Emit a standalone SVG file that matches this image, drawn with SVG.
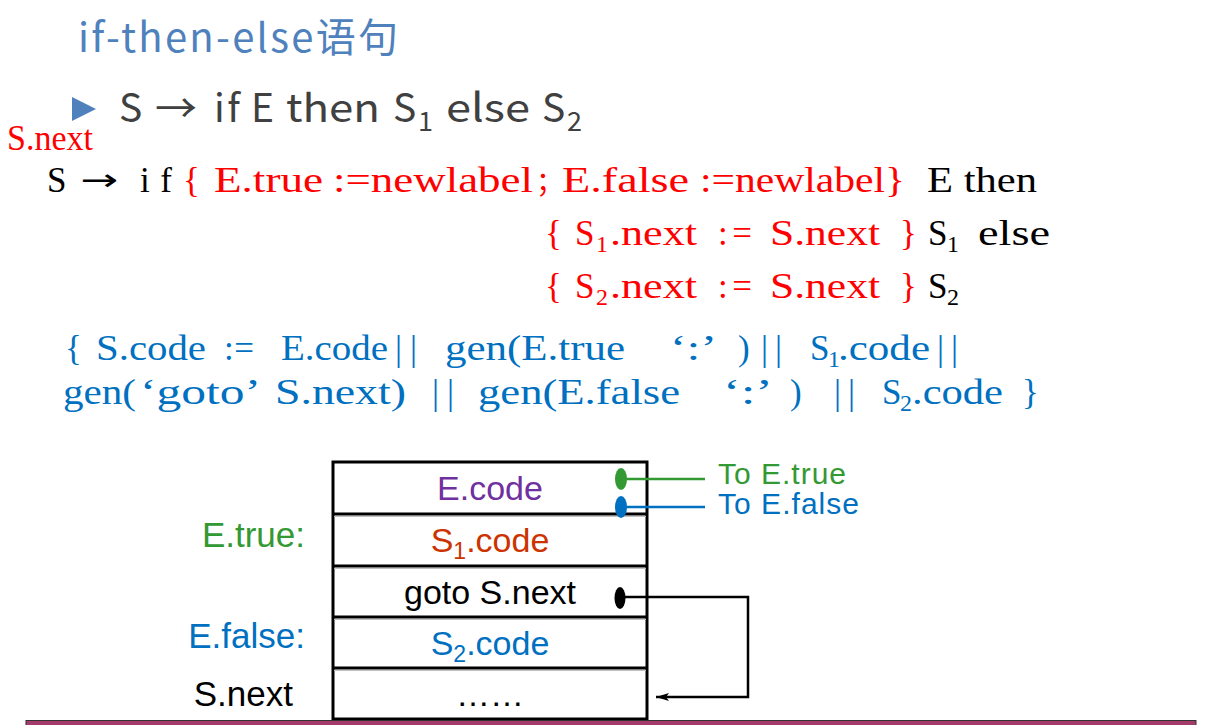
<svg xmlns="http://www.w3.org/2000/svg" width="1231" height="725" viewBox="0 0 1231 725">
  <style>
    .title { font-family: "Noto Sans CJK SC", "Open Sans", sans-serif; font-size: 40px; fill: #4F81BD; }
    .rule { font-family: "Noto Sans CJK SC", "Open Sans", sans-serif; font-size: 39px; fill: #404040; }
    .rsub { font-family: "Noto Sans CJK SC", "Open Sans", sans-serif; font-size: 27px; fill: #404040; }
    .mono { font-family: "Liberation Serif", "Noto Sans CJK SC", serif; font-size: 35px; }
    .red { fill: #FF0000; }
    .blk { fill: #000000; }
    .blue { fill: #0070C0; }
    .sub { font-size: 24px; }
    .cell { font-family: "Liberation Sans", Arial, sans-serif; font-size: 34px; text-anchor: middle; }
    .lbl { font-family: "Liberation Sans", Arial, sans-serif; font-size: 35px; text-anchor: end; }
    .to { font-family: "Liberation Sans", Arial, sans-serif; font-size: 30px; }
    .frame { fill: #FFFFFF; stroke: #000000; stroke-width: 3; }
    .div { stroke: #000000; stroke-width: 3; }
    .shade { stroke: #C0C0C0; stroke-width: 1; }
  </style>
  <defs>
    <marker id="arrow" markerWidth="14" markerHeight="10" refX="13" refY="5" orient="auto" markerUnits="userSpaceOnUse">
      <path d="M0,1 L13,5 L0,9 L3,5 Z" fill="#000000"/>
    </marker>
  </defs>

  <rect width="1231" height="725" fill="#FFFFFF"/>

  <!-- heading -->
  <text class="title" x="78" y="52" textLength="320">if-then-else语句</text>

  <!-- production -->
  <polygon points="72,97 96,109 72,121" fill="#4F81BD"/>
  <g id="production">
    <text class="rule" x="119" y="122">S</text>
    <text class="rule" x="155" y="122" textLength="42" lengthAdjust="spacingAndGlyphs">→</text>
    <text class="rule" x="214" y="122" textLength="26">if</text>
    <text class="rule" x="251" y="122">E</text>
    <text class="rule" x="286" y="122" textLength="94" lengthAdjust="spacingAndGlyphs">then</text>
    <text class="rule" x="393" y="122">S</text>
    <text class="rsub" x="418" y="131">1</text>
    <text class="rule" x="446" y="122" textLength="84" lengthAdjust="spacingAndGlyphs">else</text>
    <text class="rule" x="542" y="122">S</text>
    <text class="rsub" x="567" y="131">2</text>
  </g>

  <!-- translation scheme -->
  <text class="mono red" x="7" y="150" font-size="25" textLength="86" lengthAdjust="spacingAndGlyphs">S.next</text>

  <g class="mono">
    <text class="blk" x="47" y="192">S</text>
    <text class="blk" x="80" y="190" font-family="DejaVu Sans" font-size="30" textLength="38" lengthAdjust="spacingAndGlyphs">→</text>
    <text class="blk" x="140" y="192" textLength="32">if</text>
    <text class="red" x="183" y="192">{</text>
    <text class="red" x="214" y="192" textLength="109" lengthAdjust="spacingAndGlyphs">E.true</text>
    <text class="red" x="333" y="192" textLength="200" lengthAdjust="spacingAndGlyphs">:=newlabel</text>
    <text class="red" x="536" y="192" font-size="28">；</text>
    <text class="red" x="562" y="192" textLength="127" lengthAdjust="spacingAndGlyphs">E.false</text>
    <text class="red" x="700" y="192" textLength="205" lengthAdjust="spacingAndGlyphs">:=newlabel}</text>
    <text class="blk" x="927" y="192" textLength="110" lengthAdjust="spacingAndGlyphs">E then</text>

    <text class="red" x="545" y="245">{</text>
    <text class="red" x="575" y="245">S</text>
    <text class="red sub" x="596" y="252">1</text>
    <text class="red" x="610" y="245" textLength="87" lengthAdjust="spacingAndGlyphs">.next</text>
    <text class="red" x="718" y="245" textLength="34">:=</text>
    <text class="red" x="770" y="245" textLength="110" lengthAdjust="spacingAndGlyphs">S.next</text>
    <text class="red" x="900" y="245">}</text>
    <text class="blk" x="928" y="245">S</text>
    <text class="blk sub" x="947" y="252">1</text>
    <text class="blk" x="978" y="245" textLength="72" lengthAdjust="spacingAndGlyphs">else</text>

    <text class="red" x="545" y="298">{</text>
    <text class="red" x="575" y="298">S</text>
    <text class="red sub" x="596" y="305">2</text>
    <text class="red" x="610" y="298" textLength="87" lengthAdjust="spacingAndGlyphs">.next</text>
    <text class="red" x="718" y="298" textLength="34">:=</text>
    <text class="red" x="770" y="298" textLength="110" lengthAdjust="spacingAndGlyphs">S.next</text>
    <text class="red" x="900" y="298">}</text>
    <text class="blk" x="928" y="298">S</text>
    <text class="blk sub" x="947" y="305">2</text>

    <text class="blue" x="65" y="360">{</text>
    <text class="blue" x="96" y="360" textLength="110" lengthAdjust="spacingAndGlyphs">S.code</text>
    <text class="blue" x="224" y="360" textLength="30">:=</text>
    <text class="blue" x="281" y="360" textLength="107" lengthAdjust="spacingAndGlyphs">E.code</text>
    <text class="blue" x="395" y="360" textLength="22">||</text>
    <text class="blue" x="445" y="360" textLength="180" lengthAdjust="spacingAndGlyphs">gen(E.true</text>
    <text class="blue" x="670" y="360" textLength="47" lengthAdjust="spacingAndGlyphs">‘:’</text>
    <text class="blue" x="738" y="360">)</text>
    <text class="blue" x="761" y="360" textLength="21">||</text>
    <text class="blue" x="810" y="360">S</text>
    <text class="blue sub" x="828" y="367">1</text>
    <text class="blue" x="838" y="360" textLength="92" lengthAdjust="spacingAndGlyphs">.code</text>
    <text class="blue" x="937" y="360" textLength="21">||</text>

    <text class="blue" x="63" y="404" textLength="73" lengthAdjust="spacingAndGlyphs">gen(</text>
    <text class="blue" x="140" y="404" textLength="121" lengthAdjust="spacingAndGlyphs">‘goto’</text>
    <text class="blue" x="275" y="404" textLength="131" lengthAdjust="spacingAndGlyphs">S.next)</text>
    <text class="blue" x="432" y="404" textLength="22">||</text>
    <text class="blue" x="478" y="404" textLength="202" lengthAdjust="spacingAndGlyphs">gen(E.false</text>
    <text class="blue" x="723" y="404" textLength="50" lengthAdjust="spacingAndGlyphs">‘:’</text>
    <text class="blue" x="790" y="404">)</text>
    <text class="blue" x="834" y="404" textLength="21">||</text>
    <text class="blue" x="882" y="404">S</text>
    <text class="blue sub" x="900" y="411">2</text>
    <text class="blue" x="912" y="404" textLength="91" lengthAdjust="spacingAndGlyphs">.code</text>
    <text class="blue" x="1022" y="404">}</text>
  </g>

  <!-- code layout -->
  <g id="code-block">
    <rect class="frame" x="333" y="462" width="314" height="257"/>
    <line class="shade" x1="334" y1="516.5" x2="646" y2="516.5"/>
    <line class="shade" x1="334" y1="568.5" x2="646" y2="568.5"/>
    <line class="shade" x1="334" y1="619.5" x2="646" y2="619.5"/>
    <line class="shade" x1="334" y1="670.5" x2="646" y2="670.5"/>
    <line class="div" x1="333" y1="514" x2="647" y2="514"/>
    <line class="div" x1="333" y1="566" x2="647" y2="566"/>
    <line class="div" x1="333" y1="617" x2="647" y2="617"/>
    <line class="div" x1="333" y1="668" x2="647" y2="668"/>
  </g>
  <g id="cell-e-code"><text class="cell" x="490" y="500" fill="#7030A0">E.code</text></g>
  <g id="cell-s1-code"><text class="cell" x="490" y="552" fill="#CC3300">S<tspan font-size="23" dy="7">1</tspan><tspan dy="-7">.code</tspan></text></g>
  <g id="cell-goto"><text class="cell" x="490" y="604" fill="#000000">goto S.next</text></g>
  <g id="cell-s2-code"><text class="cell" x="490" y="655" fill="#0070C0">S<tspan font-size="23" dy="7">2</tspan><tspan dy="-7">.code</tspan></text></g>
  <g id="cell-next"><text class="cell" x="490" y="706" fill="#000000">……</text></g>

  <g id="label-e-true"><text class="lbl" x="305" y="547" fill="#339933">E.true:</text></g>
  <g id="label-e-false"><text class="lbl" x="305" y="648" fill="#0070C0">E.false:</text></g>
  <g id="label-s-next"><text class="lbl" x="293" y="706" fill="#000000">S.next</text></g>
  <g id="to-e-true"><text class="to" x="718" y="484" fill="#339933" textLength="128">To E.true</text></g>
  <g id="to-e-false"><text class="to" x="718" y="514" fill="#0070C0" textLength="141">To E.false</text></g>

  <!-- jumps -->
  <g id="connectors" fill="none" stroke-width="2.5">
    <line x1="621" y1="479" x2="705" y2="479" stroke="#339933"/>
    <ellipse cx="621" cy="479" rx="6" ry="11" fill="#339933" stroke="none"/>
    <line x1="621" y1="507" x2="705" y2="507" stroke="#0070C0"/>
    <ellipse cx="621" cy="507" rx="6" ry="11" fill="#0070C0" stroke="none"/>
    <path d="M620 597 H748 V697 H656" stroke="#000000" marker-end="url(#arrow)"/>
    <ellipse cx="620" cy="598" rx="5.5" ry="11" fill="#000000" stroke="none"/>
  </g>

  <!-- footer band -->
  <rect x="26" y="720.5" width="1170" height="6" fill="#A33B6B" stroke="#333333" stroke-width="1"/>
</svg>
